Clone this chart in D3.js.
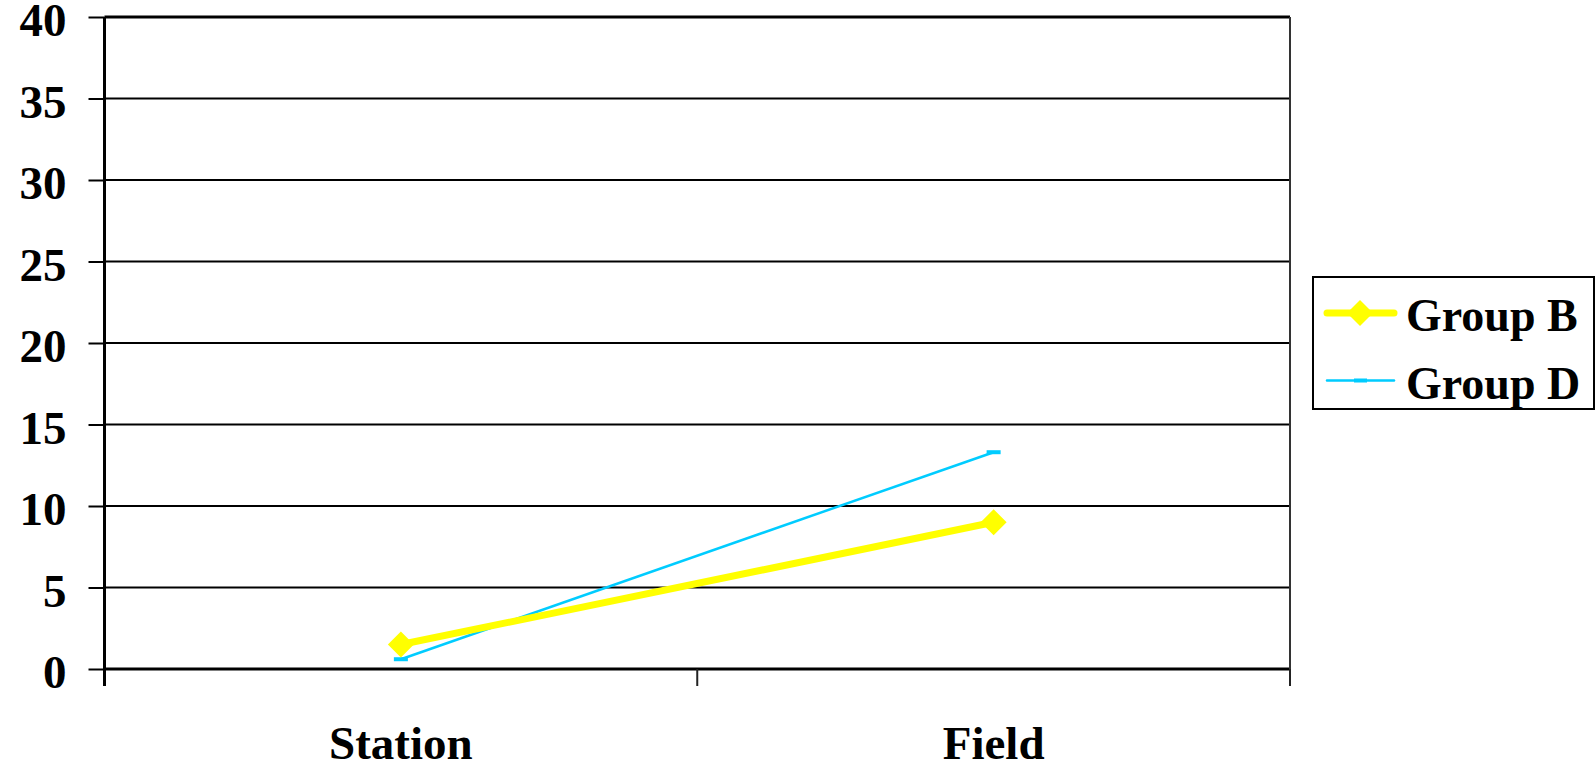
<!DOCTYPE html>
<html>
<head>
<meta charset="utf-8">
<script src="https://cdn.jsdelivr.net/npm/d3@7"></script>
<style>
  html, body { margin: 0; padding: 0; background: #fff; }
  svg { display: block; }
  text { font-family: "Liberation Serif", "Times New Roman", Times, serif; font-weight: bold; }
</style>
</head>
<body>
<svg id="chart" width="1596" height="769"></svg>
<script>
// Chart data
const categories = ["Station", "Field"];
const groupB = [1.5, 9.0];
const groupD = [0.6, 13.3];
const yTicks = [0, 5, 10, 15, 20, 25, 30, 35, 40];
const seriesNames = ["Group B", "Group D"];

const FONT = 47;
const svg = d3.select("#chart");
const plot = { left: 104.5, right: 1290, top: 17, bottom: 669 };

const x = d3.scaleBand().domain(categories).range([plot.left, plot.right]);
const y = d3.scaleLinear().domain([0, 40]).range([plot.bottom, plot.top]);

// Horizontal gridlines
svg.append("g").selectAll("line").data(yTicks).join("line")
  .attr("x1", plot.left).attr("x2", plot.right)
  .attr("y1", d => y(d)).attr("y2", d => y(d))
  .attr("stroke", "#000").attr("stroke-width", d => (d === 0 || d === 40) ? 3 : 2);

// Right border of plot area
svg.append("line")
  .attr("x1", plot.right).attr("x2", plot.right)
  .attr("y1", plot.top).attr("y2", plot.bottom)
  .attr("stroke", "#333").attr("stroke-width", 2);

// Y axis
const yAxis = d3.axisLeft(y).tickValues(yTicks).tickSize(16).tickPadding(22);
const gy = svg.append("g").attr("transform", `translate(${plot.left},0)`).call(yAxis);
gy.select(".domain").attr("stroke", "#000").attr("stroke-width", 3)
  .attr("d", `M0,${plot.top}V${plot.bottom + 17}`);
gy.selectAll(".tick line").attr("stroke", "#000").attr("stroke-width", 2);
gy.selectAll(".tick text").attr("font-size", FONT).attr("fill", "#000")
  .attr("dy", "0.4em");

// X axis: tick marks at category boundaries
const bounds = [plot.left + x.bandwidth(), plot.right];
svg.append("g").selectAll("line").data(bounds).join("line")
  .attr("x1", d => d).attr("x2", d => d)
  .attr("y1", plot.bottom).attr("y2", plot.bottom + 17)
  .attr("stroke", "#222").attr("stroke-width", 2);

svg.append("g").selectAll("text").data(categories).join("text")
  .attr("x", d => x(d) + x.bandwidth() / 2)
  .attr("y", 759)
  .attr("text-anchor", "middle")
  .attr("font-size", FONT)
  .text(d => d);

const cx = d => x(d) + x.bandwidth() / 2;
const line = d3.line().x(d => cx(d.c)).y(d => y(d.v));

const dataB = categories.map((c, i) => ({ c, v: groupB[i] }));
const dataD = categories.map((c, i) => ({ c, v: groupD[i] }));

// Group D: thin cyan line with dash markers
svg.append("path").datum(dataD).attr("d", line)
  .attr("fill", "none").attr("stroke", "#00ccff").attr("stroke-width", 2.5);
svg.append("g").selectAll("rect").data(dataD).join("rect")
  .attr("x", d => cx(d.c) - 7).attr("y", d => y(d.v) - 2)
  .attr("width", 14).attr("height", 4).attr("fill", "#00ccff");

// Group B: thick yellow line with diamond markers
svg.append("path").datum(dataB).attr("d", line)
  .attr("fill", "none").attr("stroke", "#ffff00").attr("stroke-width", 7);
const diamond = r => `M0,${-r}L${r},0L0,${r}L${-r},0Z`;
svg.append("g").selectAll("path").data(dataB).join("path")
  .attr("transform", d => `translate(${cx(d.c)},${y(d.v)})`)
  .attr("d", diamond(13)).attr("fill", "#ffff00");

// Legend
const legend = svg.append("g");
legend.append("rect").attr("x", 1313).attr("y", 277).attr("width", 281).attr("height", 132)
  .attr("fill", "#fff").attr("stroke", "#000").attr("stroke-width", 2);
const legendItems = [
  { name: seriesNames[0], color: "#ffff00", width: 7, yLine: 313, marker: "diamond" },
  { name: seriesNames[1], color: "#00ccff", width: 2.5, yLine: 380.5, marker: "dash" }
];
legendItems.forEach(it => {
  legend.append("line").attr("x1", 1327).attr("x2", 1394)
    .attr("y1", it.yLine).attr("y2", it.yLine)
    .attr("stroke", it.color).attr("stroke-width", it.width).attr("stroke-linecap", "round");
  if (it.marker === "diamond") {
    legend.append("path").attr("transform", `translate(1360,${it.yLine})`)
      .attr("d", diamond(13)).attr("fill", it.color);
  } else {
    legend.append("rect").attr("x", 1354).attr("y", it.yLine - 2)
      .attr("width", 13).attr("height", 4).attr("fill", it.color);
  }
  legend.append("text").attr("x", 1406).attr("y", it.yLine + 18)
    .attr("font-size", FONT - 1).text(it.name);
});
</script>
</body>
</html>
